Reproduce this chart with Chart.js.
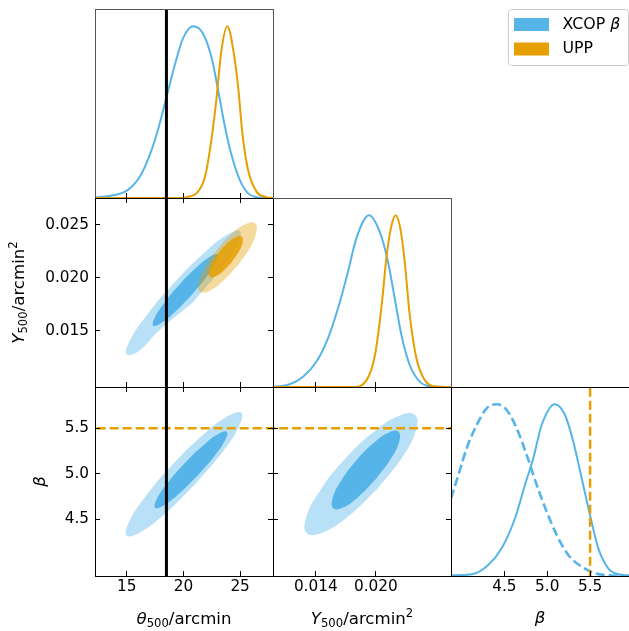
<!DOCTYPE html>
<html><head><meta charset="utf-8">
<script src="https://cdn.jsdelivr.net/npm/chart.js@4.4.0/dist/chart.umd.min.js"></script>
<style>
html,body{margin:0;padding:0;background:#fff;}
#wrap{position:relative;width:629px;height:631px;overflow:hidden;background:#fff;}
#wrap canvas{position:absolute;left:0;top:0;}
</style></head>
<body><div id="wrap"></div>
<script>
// ---------------- data ----------------
const seriesNames = ['XCOP β', 'UPP'];
const thetaRange = [12.2, 27.9];
const y500Range = [0.00973, 0.0275];
const betaRange = [3.877, 5.954];
const densRange = [0, 1.1];

const thetaTicks = [15, 20, 25];
const thetaTickLabels = ['15', '20', '25'];
const y500TicksX = [0.014, 0.020];
const y500TickLabelsX = ['0.014', '0.020'];
const y500TicksY = [0.015, 0.020, 0.025];
const y500TickLabelsY = ['0.015', '0.020', '0.025'];
const betaTicks = [4.5, 5.0, 5.5];
const betaTickLabels = ['4.5', '5.0', '5.5'];

const thetaRef = 18.5;  // black vertical line
const betaRef = 5.5;    // orange dashed line

// 1D marginals [value, normalised density]
const xcopTheta1D = [[12.2,0.004],[13.5,0.012],[15.0,0.043],[16.15,0.124],[17.0,0.245],[17.77,0.40],[18.5,0.585],[19.24,0.775],[19.97,0.93],[20.85,1.0],[21.7,0.96],[22.47,0.82],[23.05,0.63],[23.6,0.435],[24.2,0.26],[24.97,0.105],[25.7,0.027],[26.45,0.005],[27.9,0]];
const uppTheta1D = [[12.2,0],[20.0,0],[20.27,0.005],[21.15,0.027],[21.9,0.124],[22.47,0.34],[22.9,0.57],[23.35,0.86],[23.88,1.0],[24.4,0.86],[24.85,0.63],[25.2,0.376],[25.7,0.163],[26.45,0.037],[27.3,0.005],[27.9,0]];
const xcopY5001D = [[0.00973,0],[0.0114,0.016],[0.01273,0.06],[0.01406,0.147],[0.01522,0.283],[0.01622,0.458],[0.01722,0.671],[0.01805,0.865],[0.01931,1.0],[0.02038,0.904],[0.02121,0.729],[0.02188,0.516],[0.02255,0.303],[0.02338,0.128],[0.02438,0.031],[0.02537,0.004],[0.0275,0]];
const uppY5001D = [[0.00973,0],[0.01775,0],[0.01908,0.04],[0.01991,0.186],[0.02058,0.477],[0.02108,0.768],[0.02158,0.945],[0.02198,1.0],[0.02245,0.92],[0.02288,0.729],[0.02338,0.419],[0.02405,0.167],[0.02488,0.04],[0.02605,0.003],[0.0275,0]];
const xcopBeta1D = [[3.877,0.004],[4.12,0.01],[4.312,0.064],[4.468,0.161],[4.624,0.336],[4.74,0.53],[4.837,0.685],[4.935,0.879],[5.09,1.0],[5.207,0.937],[5.304,0.782],[5.402,0.569],[5.499,0.355],[5.596,0.161],[5.712,0.045],[5.829,0.01],[5.954,0.003]];
const xcopBetaPrior1D = [[3.877,0.452],[3.963,0.588],[4.06,0.743],[4.177,0.879],[4.293,0.976],[4.41,1.0],[4.527,0.966],[4.643,0.86],[4.76,0.704],[4.877,0.53],[4.994,0.374],[5.11,0.239],[5.246,0.122],[5.402,0.054],[5.557,0.016],[5.71,0.004],[5.954,0]];

// 2D contours (boundary points), 95% and 68%
const xcopThetaY95 = [[20.87,0.017733],[17.753,0.014947],[16.105,0.013142],[15.0,0.0128],[15.235,0.014012],[16.747,0.016453],[19.13,0.019467],[21.747,0.022253],[23.895,0.024058],[25.0,0.0244],[24.765,0.023188],[23.253,0.020747]];
const xcopThetaY68 = [[20.686,0.018336],[19.202,0.01673],[17.977,0.015692],[17.34,0.0155],[17.461,0.016206],[18.308,0.01762],[19.654,0.019364],[21.138,0.02097],[22.363,0.022008],[23.0,0.0222],[22.879,0.021494],[22.032,0.02008]];
const uppThetaY95 = [[24.782,0.021142],[23.45,0.019638],[22.236,0.01874],[21.464,0.018692],[21.343,0.019506],[21.904,0.020962],[22.996,0.022672],[24.329,0.024177],[25.543,0.025074],[26.314,0.025122],[26.436,0.024308],[25.875,0.022853]];
const uppThetaY68 = [[24.29,0.021509],[23.516,0.020632],[22.803,0.020117],[22.34,0.0201],[22.253,0.020587],[22.564,0.021448],[23.19,0.022451],[23.964,0.023328],[24.677,0.023843],[25.14,0.02386],[25.227,0.023373],[24.916,0.022512]];
const xcopThetaBeta95 = [[21.017,4.883],[18.362,4.56],[16.161,4.354],[15.0,4.32],[15.194,4.467],[16.688,4.755],[19.083,5.107],[21.738,5.43],[23.94,5.636],[25.1,5.67],[24.907,5.523],[23.412,5.235]];
const xcopThetaBeta68 = [[21.24,4.978],[19.582,4.778],[18.213,4.65],[17.5,4.628],[17.633,4.717],[18.578,4.895],[20.08,5.113],[21.738,5.312],[23.107,5.44],[23.82,5.463],[23.687,5.373],[22.742,5.195]];
const xcopY500Beta95 = [[0.020131,4.833],[0.017214,4.53],[0.014645,4.352],[0.01311,4.346],[0.013024,4.515],[0.014406,4.812],[0.016889,5.159],[0.019806,5.462],[0.022376,5.641],[0.02391,5.646],[0.023997,5.477],[0.022614,5.18]];
const xcopY500Beta68 = [[0.020033,4.946],[0.018267,4.749],[0.0167,4.629],[0.01575,4.621],[0.015672,4.725],[0.016487,4.915],[0.017977,5.138],[0.019743,5.336],[0.02131,5.455],[0.02226,5.463],[0.022338,5.359],[0.021523,5.17]];

// ---------------- styling ----------------
const W = 629, H = 631;
const BLUE = '#56B4E9', ORANGE = '#E69F00';
const BLUE_OUT = 'rgba(86,180,233,0.42)', BLUE_IN = 'rgba(86,180,233,1)';
const OR_OUT = 'rgba(230,159,0,0.38)', OR_IN = 'rgba(230,159,0,0.85)';
const FONT = 'DejaVu Sans';
const TICK_SIZE = 15.3, TITLE_SIZE = 16.6, LEG_SIZE = 15.8;

const wrap = document.getElementById('wrap');
function mkCanvas(){ const c=document.createElement('canvas'); c.width=W; c.height=H; c.style.width=W+'px'; c.style.height=H+'px'; wrap.appendChild(c); return c; }
const pts = a => a.map(p => ({x:p[0], y:p[1]}));
const closed = a => pts(a.concat([a[0]]));

function curve(data, color, order, extra){ return Object.assign({data:pts(data), showLine:true, borderColor:color, borderWidth:2, pointRadius:0, fill:false, cubicInterpolationMode:'monotone', clip:0, order}, extra||{}); }
function region(data, color, order){ return {data:closed(data), showLine:true, borderWidth:0, borderColor:'rgba(0,0,0,0)', backgroundColor:color, fill:'shape', pointRadius:0, tension:0.45, clip:0, order}; }
function vline(x, range, color, width, dash, order){ return {data:[{x:x,y:range[0]-1},{x:x,y:range[1]+1}], showLine:true, borderColor:color, borderWidth:width, borderDash:dash||[], pointRadius:0, fill:false, clip:0, order}; }
function hline(y, range, color, width, dash, order){ return {data:[{x:range[0]-1,y:y},{x:range[1]+1,y:y}], showLine:true, borderColor:color, borderWidth:width, borderDash:dash||[], pointRadius:0, fill:false, clip:0, order}; }

// size = thickness reserved for the axis box (labels are clipped to it)
function axis(range, ticks, labels, showLabels, pos, size){
  return {type:'linear', position:pos, min:range[0], max:range[1],
    grid:{display:false, drawTicks:false}, border:{display:false},
    ticks:{display:showLabels, autoSkip:false, maxRotation:0, minRotation:0, padding: pos==='bottom'?2:6, color:'#000',
      font:{family:FONT, size:TICK_SIZE}, callback:(v,i)=>labels[i]},
    afterBuildTicks: s => { s.ticks = ticks.map(v=>({value:v})); },
    afterFit: s => { if (pos==='bottom') s.height = size; else s.width = size; }
  };
}

function decoPlugin(d){
  return {id:'deco', afterDraw(chart){
    const ctx=chart.ctx, a=chart.chartArea, xs=chart.scales.x, ys=chart.scales.y;
    const L=5; const f=v=>Math.floor(v)+0.5;
    ctx.save();
    ctx.lineWidth=1; ctx.strokeStyle='#000';
    const ln=(x1,y1,x2,y2,c)=>{ctx.strokeStyle=c||'#000';ctx.beginPath();ctx.moveTo(x1,y1);ctx.lineTo(x2,y2);ctx.stroke();};
    (d.xt||[]).forEach(v=>{ const px=f(xs.getPixelForValue(v));
      if(d.xb) ln(px,a.bottom,px,a.bottom-L);
      if(d.xtop) ln(px,a.top,px,a.top+L); });
    (d.yt||[]).forEach(v=>{ const py=f(ys.getPixelForValue(v));
      ln(a.left,py,a.left+L,py); ln(a.right,py,a.right-L,py); });
    const fr=d.frame;
    ln(f(a.left),a.top,f(a.left),a.bottom+0.5,fr[0]);
    ln(a.left,f(a.top),a.right+0.5,f(a.top),fr[1]);
    ln(f(a.right),a.top,f(a.right),a.bottom+0.5,fr[2]);
    ln(a.left,f(a.bottom),a.right+0.5,f(a.bottom),fr[3]);
    ctx.restore();
  }};
}

function panel(rect, xSpec, ySpec, datasets, deco, extraPlugins){
  const xH = xSpec[3] ? H - rect[3] : 0;   // reserve room below for labels
  const yW = ySpec[3] ? rect[0] : 0;       // reserve room on the left for labels
  const xAx = axis(xSpec[0], xSpec[1], xSpec[2], xSpec[3], 'bottom', xH);
  const yAx = axis(ySpec[0], ySpec[1], ySpec[2], ySpec[3], 'left', yW);
  return new Chart(mkCanvas(), {type:'scatter', data:{datasets},
    options:{responsive:false, animation:false, events:[], devicePixelRatio:1,
      layout:{autoPadding:false, padding:{left:rect[0]-yW, top:rect[1], right:W-rect[2], bottom:H-rect[3]-xH}},
      plugins:{legend:{display:false}, tooltip:{enabled:false}},
      scales:{x:xAx, y:yAx}},
    plugins:[decoPlugin(deco)].concat(extraPlugins||[])});
}

// rich text (sub/superscripts)
function fontOf(s,size){ const sz=(s.sub||s.sup)?size*0.7:size; return (s.it?'italic ':'')+sz+'px "'+FONT+'"'; }
function drawRich(ctx, segs, size, x, y, rot){
  ctx.save(); ctx.translate(x,y); if(rot) ctx.rotate(rot);
  let total=0; segs.forEach(s=>{ctx.font=fontOf(s,size); total+=ctx.measureText(s.t).width;});
  let cx=-total/2; ctx.textBaseline='alphabetic'; ctx.textAlign='left'; ctx.fillStyle='#000';
  segs.forEach(s=>{ctx.font=fontOf(s,size); const dy=s.sub?0.2*size:(s.sup?-0.42*size:0); ctx.fillText(s.t,cx,dy); cx+=ctx.measureText(s.t).width;});
  ctx.restore();
}
const thetaTitle = [{t:'θ',it:1},{t:'500',sub:1},{t:'/arcmin'}];
const y500Title = [{t:'Y',it:1},{t:'500',sub:1},{t:'/arcmin'},{t:'2',sup:1}];
const betaTitle = [{t:'β',it:1}];

const textPlugin = {id:'texts', afterDraw(chart){
  const ctx=chart.ctx;
  drawRich(ctx, thetaTitle, TITLE_SIZE, 184, 624, 0);
  drawRich(ctx, y500Title, TITLE_SIZE, 362, 624, 0);
  drawRich(ctx, betaTitle, TITLE_SIZE, 540, 623, 0);
  drawRich(ctx, y500Title, TITLE_SIZE, 24, 292.5, -Math.PI/2);
  drawRich(ctx, betaTitle, TITLE_SIZE, 45, 481.5, -Math.PI/2);
  // legend
  ctx.save();
  ctx.beginPath(); ctx.roundRect(508.5, 9.5, 120, 56, 3);
  ctx.fillStyle='rgba(255,255,255,0.8)'; ctx.fill(); ctx.strokeStyle='#cccccc'; ctx.lineWidth=1; ctx.stroke();
  const cols=[BLUE, ORANGE];
  seriesNames.forEach((n,i)=>{
    const yc = 24.5 + i*24.5;
    ctx.fillStyle=cols[i]; ctx.fillRect(514, yc-6.5, 35, 13);
    ctx.fillStyle='#000'; ctx.textBaseline='middle'; ctx.textAlign='left';
    if (n.indexOf('β')>=0){
      const base=n.replace(' β','')+' ';
      ctx.font=LEG_SIZE+'px "'+FONT+'"'; ctx.fillText(base, 562.5, yc);
      const w=ctx.measureText(base).width;
      ctx.font='italic '+LEG_SIZE+'px "'+FONT+'"'; ctx.fillText('β', 562.5+w, yc);
    } else { ctx.font=LEG_SIZE+'px "'+FONT+'"'; ctx.fillText(n, 562.5, yc); }
  });
  ctx.restore();
}};

const GRAY='#555', BLK='#000';
const colX=[95,273,451,629], rowY=[9,198,387,576];

// top-left: theta 1D
panel([colX[0],rowY[0],colX[1],rowY[1]],
  [thetaRange, thetaTicks, thetaTickLabels, false],
  [densRange, [], [], false],
  [vline(thetaRef, densRange, '#000', 3, null, 0),
   curve(uppTheta1D, ORANGE, 1), curve(xcopTheta1D, BLUE, 2)],
  {xt:thetaTicks, xb:true, frame:[GRAY,GRAY,GRAY,BLK]});

// middle-left: theta vs Y500
panel([colX[0],rowY[1],colX[1],rowY[2]],
  [thetaRange, thetaTicks, thetaTickLabels, false],
  [y500Range, y500TicksY, y500TickLabelsY, true],
  [vline(thetaRef, y500Range, '#000', 3, null, 0),
   region(uppThetaY68, OR_IN, 1), region(uppThetaY95, OR_OUT, 2),
   region(xcopThetaY68, BLUE_IN, 3), region(xcopThetaY95, BLUE_OUT, 4)],
  {xt:thetaTicks, xb:true, xtop:true, yt:y500TicksY, frame:[BLK,BLK,BLK,BLK]});

// middle-middle: Y500 1D
panel([colX[1],rowY[1],colX[2],rowY[2]],
  [y500Range, y500TicksX, y500TickLabelsX, false],
  [densRange, [], [], false],
  [curve(uppY5001D, ORANGE, 1), curve(xcopY5001D, BLUE, 2)],
  {xt:y500TicksX, xb:true, frame:[BLK,GRAY,GRAY,BLK]});

// bottom-left: theta vs beta
panel([colX[0],rowY[2],colX[1],rowY[3]],
  [thetaRange, thetaTicks, thetaTickLabels, true],
  [betaRange, betaTicks, betaTickLabels, true],
  [vline(thetaRef, betaRange, '#000', 3, null, 0),
   hline(betaRef, thetaRange, ORANGE, 2.5, [9,4], 1),
   region(xcopThetaBeta68, BLUE_IN, 3), region(xcopThetaBeta95, BLUE_OUT, 4)],
  {xt:thetaTicks, xb:true, xtop:true, yt:betaTicks, frame:[BLK,BLK,BLK,BLK]});

// bottom-middle: Y500 vs beta
panel([colX[1],rowY[2],colX[2],rowY[3]],
  [y500Range, y500TicksX, y500TickLabelsX, true],
  [betaRange, betaTicks, betaTickLabels, false],
  [hline(betaRef, y500Range, ORANGE, 2.5, [9,4], 1),
   region(xcopY500Beta68, BLUE_IN, 3), region(xcopY500Beta95, BLUE_OUT, 4)],
  {xt:y500TicksX, xb:true, xtop:true, yt:betaTicks, frame:[BLK,BLK,BLK,BLK]});

// bottom-right: beta 1D
panel([colX[2],rowY[2],colX[3],rowY[3]],
  [betaRange, betaTicks, betaTickLabels, true],
  [densRange, [], [], false],
  [vline(betaRef, densRange, ORANGE, 2.5, [9,4], 0),
   curve(xcopBeta1D, BLUE, 1),
   curve(xcopBetaPrior1D, BLUE, 2, {borderWidth:2.6, borderDash:[9,4]})],
  {xt:betaTicks, xb:true, frame:[BLK,BLK,GRAY,BLK]},
  [textPlugin]);
</script>
</body></html>
